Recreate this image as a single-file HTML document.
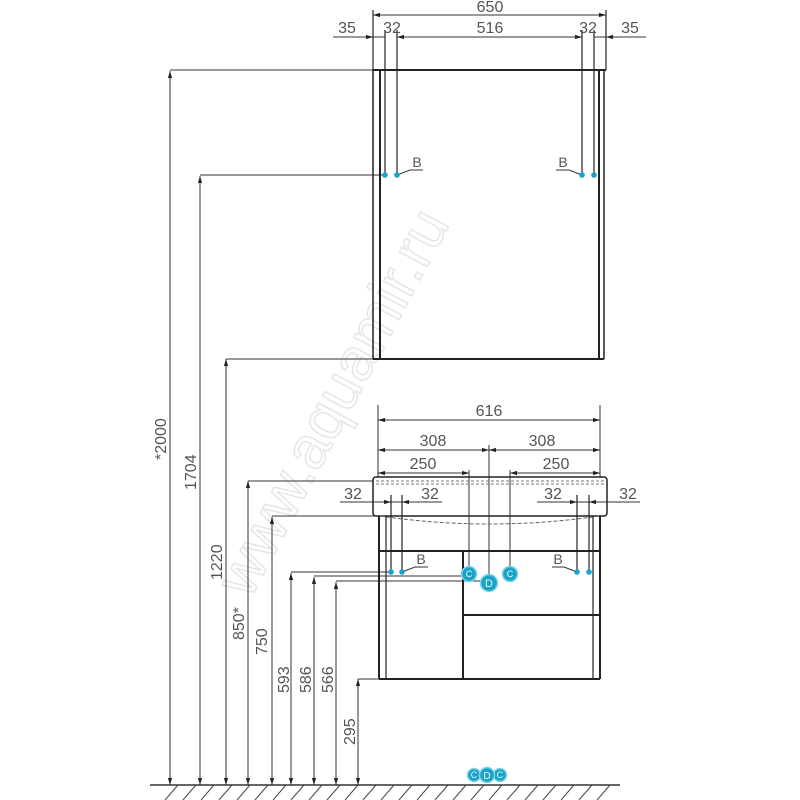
<!DOCTYPE html>
<html><head><style>
html,body{margin:0;padding:0;background:#fff;}
svg{display:block;}
text{font-family:"Liberation Sans","DejaVu Sans",sans-serif;fill:#555;font-size:16px;}
</style></head><body>
<svg width="800" height="800" viewBox="0 0 800 800" xmlns="http://www.w3.org/2000/svg">
<defs>
<marker id="a" viewBox="0 0 10 10" refX="10" refY="5" markerWidth="7" markerHeight="7" orient="auto-start-reverse"><path d="M0,2L10,5L0,8z" fill="#222"/></marker>
</defs>
<text x="0" y="0" transform="translate(250,600) rotate(-62)" style="font-size:60px;fill:none;stroke:#e6e6e6;stroke-width:1.5">www.aquamir.ru</text>

<g stroke="#333" stroke-width="1.5" fill="none">
<line x1="150" y1="785" x2="620" y2="785"/>
</g>
<g stroke="#444" stroke-width="1">
<path d="M165,800l13,-15M183,800l13,-15M201,800l13,-15M219,800l13,-15M237,800l13,-15M255,800l13,-15M273,800l13,-15M291,800l13,-15M309,800l13,-15M327,800l13,-15M345,800l13,-15M363,800l13,-15M381,800l13,-15M399,800l13,-15M417,800l13,-15M435,800l13,-15M453,800l13,-15M471,800l13,-15M489,800l13,-15M507,800l13,-15M525,800l13,-15M543,800l13,-15M561,800l13,-15M579,800l13,-15M597,800l13,-15"/>
</g>

<g stroke="#333" stroke-width="1" fill="none" marker-start="url(#a)" marker-end="url(#a)">
<line x1="170" y1="71" x2="170" y2="785"/>
<line x1="200" y1="176" x2="200" y2="785"/>
<line x1="226" y1="359" x2="226" y2="785"/>
<line x1="248" y1="481" x2="248" y2="785"/>
<line x1="272" y1="517" x2="272" y2="785"/>
<line x1="291" y1="573" x2="291" y2="785"/>
<line x1="314" y1="577" x2="314" y2="785"/>
<line x1="336" y1="582" x2="336" y2="785"/>
<line x1="358" y1="679" x2="358" y2="785"/>
</g>
<g stroke="#333" stroke-width="1" fill="none">
<line x1="170" y1="70" x2="373" y2="70"/>
<line x1="200" y1="175" x2="385" y2="175"/>
<line x1="226" y1="359" x2="373" y2="359"/>
<line x1="248" y1="481" x2="373" y2="481"/>
<line x1="272" y1="516" x2="380" y2="516"/>
<line x1="291" y1="572" x2="390" y2="572"/>
<line x1="314" y1="576" x2="470" y2="576"/>
<line x1="336" y1="581" x2="489" y2="581"/>
<line x1="358" y1="679" x2="379" y2="679"/>
</g>
<g>
<text transform="translate(166,460) rotate(-90)">*2000</text>
<text transform="translate(196,490) rotate(-90)">1704</text>
<text transform="translate(222,580) rotate(-90)">1220</text>
<text transform="translate(244,640) rotate(-90)">850*</text>
<text transform="translate(267,655) rotate(-90)">750</text>
<text transform="translate(289,693) rotate(-90)">593</text>
<text transform="translate(311,693) rotate(-90)">586</text>
<text transform="translate(333,693) rotate(-90)">566</text>
<text transform="translate(355,745) rotate(-90)">295</text>
</g>

<g stroke="#222" fill="none">
<line x1="373" y1="70" x2="606" y2="70" stroke-width="2"/>
<line x1="373" y1="70" x2="373" y2="359" stroke-width="1.5"/>
<line x1="380" y1="70" x2="380" y2="359" stroke-width="2"/>
<line x1="599" y1="70" x2="599" y2="359" stroke-width="2"/>
<line x1="604" y1="70" x2="604" y2="359" stroke-width="1.5"/>
<line x1="373" y1="359" x2="604" y2="359" stroke-width="2"/>
<g stroke-width="1.2">
<line x1="373" y1="10" x2="373" y2="70"/><line x1="606" y1="10" x2="606" y2="70"/>
<line x1="385" y1="30" x2="385" y2="175"/><line x1="397" y1="30" x2="397" y2="175"/>
<line x1="582" y1="30" x2="582" y2="175"/><line x1="594" y1="30" x2="594" y2="175"/>
</g>
</g>
<g stroke="#333" stroke-width="1" fill="none">
<line x1="373" y1="15" x2="606" y2="15" marker-start="url(#a)" marker-end="url(#a)"/>
<line x1="333" y1="37" x2="373" y2="37" marker-end="url(#a)"/>
<line x1="373" y1="37" x2="385" y2="37"/>
<line x1="397" y1="37" x2="582" y2="37" marker-start="url(#a)" marker-end="url(#a)"/>
<line x1="594" y1="37" x2="606" y2="37"/>
<line x1="646" y1="37" x2="606" y2="37" marker-end="url(#a)"/>
<path d="M397,175 L410,170 H423"/>
<path d="M582,175 L569,170 H556"/>
</g>
<text x="490" y="12" text-anchor="middle">650</text>
<text x="347" y="33" text-anchor="middle">35</text>
<text x="392" y="33" text-anchor="middle">32</text>
<text x="490" y="33" text-anchor="middle">516</text>
<text x="588" y="33" text-anchor="middle">32</text>
<text x="630" y="33" text-anchor="middle">35</text>
<text x="417" y="167" text-anchor="middle" style="font-size:14px">B</text>
<text x="563" y="167" text-anchor="middle" style="font-size:14px">B</text>
<g fill="#1aa3c8"><circle cx="385" cy="175" r="2.8"/><circle cx="397" cy="175" r="2.8"/><circle cx="582" cy="175" r="2.8"/><circle cx="594" cy="175" r="2.8"/></g>

<g stroke="#333" stroke-width="1" fill="none">
<line x1="378" y1="405" x2="378" y2="477"/><line x1="600" y1="405" x2="600" y2="477"/>
<line x1="378" y1="420" x2="600" y2="420" marker-start="url(#a)" marker-end="url(#a)"/>
<line x1="378" y1="450" x2="489" y2="450" marker-start="url(#a)" marker-end="url(#a)"/>
<line x1="489" y1="450" x2="600" y2="450" marker-start="url(#a)" marker-end="url(#a)"/>
<line x1="378" y1="473" x2="469" y2="473" marker-start="url(#a)" marker-end="url(#a)"/>
<line x1="510" y1="473" x2="600" y2="473" marker-start="url(#a)" marker-end="url(#a)"/>
<line x1="489" y1="445" x2="489" y2="582"/>
<line x1="469" y1="470" x2="469" y2="573"/>
<line x1="510" y1="470" x2="510" y2="573"/>
<line x1="340" y1="502" x2="373" y2="502"/>
<line x1="373" y1="502" x2="391" y2="502" marker-end="url(#a)"/>
<line x1="402" y1="502" x2="442" y2="502" marker-start="url(#a)"/>
<line x1="391" y1="502" x2="402" y2="502"/>
<line x1="537" y1="502" x2="577" y2="502" marker-end="url(#a)"/>
<line x1="577" y1="502" x2="589" y2="502"/>
<line x1="589" y1="502" x2="607" y2="502" marker-start="url(#a)"/>
<line x1="607" y1="502" x2="640" y2="502"/>
<path d="M402,572 L415,567 H428"/>
<path d="M577,572 L564,567 H552"/>
</g>
<text x="489" y="416" text-anchor="middle">616</text>
<text x="433" y="446" text-anchor="middle">308</text>
<text x="542" y="446" text-anchor="middle">308</text>
<text x="423" y="469" text-anchor="middle">250</text>
<text x="556" y="469" text-anchor="middle">250</text>
<text x="353" y="499" text-anchor="middle">32</text>
<text x="430" y="499" text-anchor="middle">32</text>
<text x="553" y="499" text-anchor="middle">32</text>
<text x="628" y="499" text-anchor="middle">32</text>
<text x="421" y="564" text-anchor="middle" style="font-size:14px">B</text>
<text x="558" y="564" text-anchor="middle" style="font-size:14px">B</text>

<g stroke="#222" fill="none">
<rect x="373" y="477" width="234" height="39" rx="3" stroke-width="1.5"/>
<line x1="376" y1="481" x2="604" y2="481" stroke-dasharray="3,2" stroke="#777"/>
<line x1="376" y1="484" x2="604" y2="484" stroke-dasharray="3,2" stroke="#777"/>
<path d="M380,516 Q489,532 600,516" stroke="#666" stroke-dasharray="4,2"/>
<line x1="379" y1="516" x2="379" y2="679" stroke-width="2"/>
<line x1="600" y1="516" x2="600" y2="679" stroke-width="2"/>
<line x1="386" y1="516" x2="386" y2="679" stroke-width="1.2"/>
<line x1="593" y1="516" x2="593" y2="679" stroke-width="1.2"/>
<line x1="379" y1="551" x2="600" y2="551" stroke-width="2"/>
<line x1="463" y1="551" x2="463" y2="679" stroke-width="2"/>
<line x1="463" y1="615" x2="600" y2="615" stroke-width="2"/>
<line x1="379" y1="679" x2="600" y2="679" stroke-width="2"/>
<g stroke-width="1.2">
<line x1="391" y1="495" x2="391" y2="572"/><line x1="402" y1="495" x2="402" y2="572"/>
<line x1="577" y1="495" x2="577" y2="572"/><line x1="589" y1="495" x2="589" y2="572"/>
</g>
</g>
<g fill="#1aa3c8"><circle cx="391" cy="572" r="2.8"/><circle cx="402" cy="572" r="2.8"/><circle cx="577" cy="572" r="2.8"/><circle cx="589" cy="572" r="2.8"/></g>
<g fill="#1aa3c8" stroke="#7fd3ea" stroke-width="1.5">
<circle cx="469" cy="574" r="7.5"/><circle cx="510" cy="574" r="7.5"/><circle cx="489" cy="583" r="8.5"/>
<circle cx="474" cy="775" r="6.5"/><circle cx="500" cy="775" r="6.5"/><circle cx="487" cy="775" r="7.5"/>
</g>
<g text-anchor="middle">
<text x="469" y="577" style="font-size:9px;fill:#e8f6fb">C</text><text x="510" y="577" style="font-size:9px;fill:#e8f6fb">C</text><text x="489" y="587" style="font-size:11px;fill:#e8f6fb">D</text>
<text x="474" y="778" style="font-size:9px;fill:#e8f6fb">C</text><text x="500" y="778" style="font-size:9px;fill:#e8f6fb">C</text><text x="487" y="779" style="font-size:10px;fill:#e8f6fb">D</text>
</g>
</svg>
</body></html>
